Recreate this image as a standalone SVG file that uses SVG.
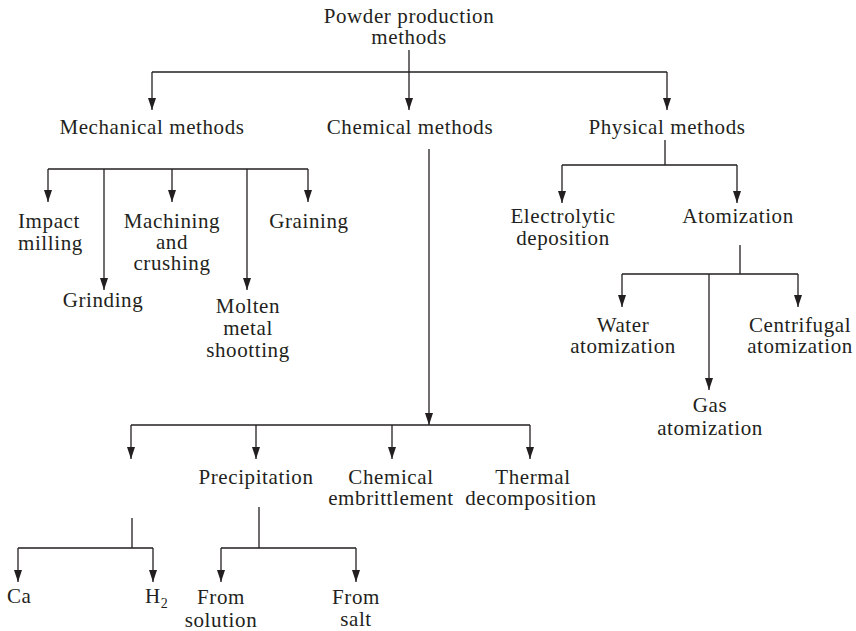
<svg xmlns="http://www.w3.org/2000/svg" width="856" height="631" viewBox="0 0 856 631">
  <style>
    text { font-family: "Liberation Serif", "Times New Roman", serif; font-size: 21px; fill: #231f20; letter-spacing: 0.6px; }
    .c { text-anchor: middle; }
    .l { text-anchor: start; }
    .wire { fill: none; stroke: #231f20; stroke-width: 1.3; }
    .arrow { fill: none; stroke: #231f20; stroke-width: 1.3; marker-end: url(#head); }
  </style>
  <defs>
    <marker id="head" viewBox="0 0 12 8" refX="12" refY="4" markerWidth="12" markerHeight="8" markerUnits="userSpaceOnUse" orient="auto">
      <path d="M0,0 L12,4 L0,8 Z" fill="#231f20"/>
    </marker>
  </defs>
  <rect width="856" height="631" fill="#ffffff"/>

  <g id="connectors">
    <!-- root split -->
    <path class="arrow" d="M409,50 V110"/>
    <path class="wire" d="M152,72 H667"/>
    <path class="arrow" d="M152,72 V110"/>
    <path class="arrow" d="M667,72 V110"/>

    <!-- mechanical branch -->
    <path class="wire" d="M48,169 H308"/>
    <path class="arrow" d="M48,169 V202"/>
    <path class="arrow" d="M104,169 V290"/>
    <path class="arrow" d="M172,169 V202"/>
    <path class="arrow" d="M247,169 V290"/>
    <path class="arrow" d="M308,169 V202"/>

    <!-- chemical branch -->
    <path class="arrow" d="M429,149 V425"/>
    <path class="wire" d="M131,425 H530"/>
    <path class="arrow" d="M131,425 V459"/>
    <path class="arrow" d="M256,425 V459"/>
    <path class="arrow" d="M392,425 V459"/>
    <path class="arrow" d="M530,425 V459"/>

    <!-- reduction sub-branch -->
    <path class="wire" d="M132,518 V548 M18,548 H153"/>
    <path class="arrow" d="M18,548 V582"/>
    <path class="arrow" d="M153,548 V582"/>

    <!-- precipitation sub-branch -->
    <path class="wire" d="M259,507 V548 M221,548 H356"/>
    <path class="arrow" d="M221,548 V582"/>
    <path class="arrow" d="M356,548 V582"/>

    <!-- physical branch -->
    <path class="wire" d="M665,140 V165 M562,165 H737"/>
    <path class="arrow" d="M562,165 V203"/>
    <path class="arrow" d="M737,165 V203"/>

    <!-- atomization sub-branch -->
    <path class="wire" d="M740,245 V274 M622,274 H798"/>
    <path class="arrow" d="M622,274 V307"/>
    <path class="arrow" d="M709,274 V390"/>
    <path class="arrow" d="M798,274 V307"/>
  </g>

  <g id="root"><text class="c" x="409" y="23">Powder production</text><text class="c" x="409" y="44">methods</text></g>

  <g id="mechanical"><text class="c" x="152" y="134">Mechanical methods</text></g>
  <g id="chemical"><text class="c" x="410" y="134">Chemical methods</text></g>
  <g id="physical"><text class="c" x="667" y="134">Physical methods</text></g>

  <g id="impact-milling"><text class="l" x="18" y="228">Impact</text><text class="l" x="18" y="250">milling</text></g>
  <g id="grinding"><text class="c" x="103" y="307">Grinding</text></g>
  <g id="machining"><text class="c" x="172" y="228">Machining</text><text class="c" x="172" y="249">and</text><text class="c" x="172" y="270">crushing</text></g>
  <g id="molten-metal"><text class="c" x="248" y="313">Molten</text><text class="c" x="248" y="335">metal</text><text class="c" x="248" y="357">shootting</text></g>
  <g id="graining"><text class="c" x="309" y="228">Graining</text></g>

  <g id="electrolytic"><text class="c" x="563" y="223">Electrolytic</text><text class="c" x="563" y="245">deposition</text></g>
  <g id="atomization"><text class="c" x="738" y="223">Atomization</text></g>
  <g id="water-atomization"><text class="c" x="623" y="332">Water</text><text class="c" x="623" y="353">atomization</text></g>
  <g id="centrifugal-atomization"><text class="c" x="800" y="332">Centrifugal</text><text class="c" x="800" y="353">atomization</text></g>
  <g id="gas-atomization"><text class="c" x="710" y="412">Gas</text><text class="c" x="710" y="435">atomization</text></g>

  <g id="precipitation"><text class="c" x="256" y="484">Precipitation</text></g>
  <g id="chemical-embrittlement"><text class="c" x="391" y="484">Chemical</text><text class="c" x="391" y="505">embrittlement</text></g>
  <g id="thermal-decomposition"><text class="c" x="533" y="484">Thermal</text><text class="c" x="531" y="505">decomposition</text></g>

  <g id="ca"><text class="l" x="7" y="603">Ca</text></g>
  <g id="h2"><text class="l" x="145" y="603">H<tspan dy="5" font-size="14">2</tspan></text></g>
  <g id="from-solution"><text class="c" x="221" y="604">From</text><text class="c" x="221" y="627">solution</text></g>
  <g id="from-salt"><text class="c" x="356" y="604">From</text><text class="c" x="356" y="626">salt</text></g>
</svg>
